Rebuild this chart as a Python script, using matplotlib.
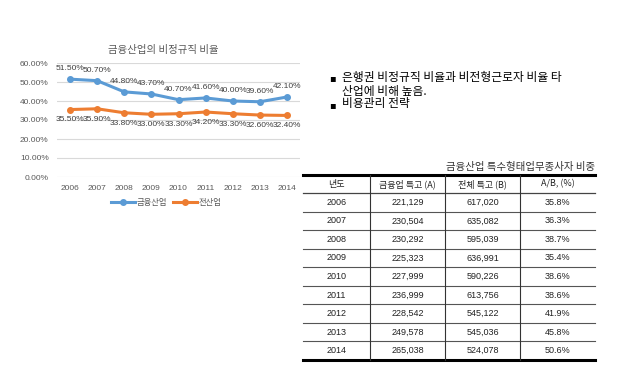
import matplotlib.pyplot as plt
import numpy as np

plt.rcParams['font.family'] = ['Noto Sans CJK KR', 'DejaVu Sans']

# 데이터
years = ['2006', '2007', '2008', '2009', '2010', '2011', '2012', '2013', '2014']
finance = [51.5, 50.7, 44.8, 43.7, 40.7, 41.6, 40.0, 39.6, 42.1]
all_ind = [35.5, 35.9, 33.8, 33.0, 33.3, 34.2, 33.3, 32.6, 32.4]

tbl_header = ['년도', '금융업 특고 (A)', '전체 특고 (B)', 'A/B, (%)']
tbl_fin = ['221,129', '230,504', '230,292', '225,323', '227,999',
           '236,999', '228,542', '249,578', '265,038']
tbl_total = ['617,020', '635,082', '595,039', '636,991', '590,226',
             '613,756', '545,122', '545,036', '524,078']
tbl_ratio = ['35.8%', '36.3%', '38.7%', '35.4%', '38.6%',
             '38.6%', '41.9%', '45.8%', '50.6%']

W, H = 635, 382
fig = plt.figure(figsize=(W / 100, H / 100), dpi=100)
num_font = ['Liberation Sans', 'DejaVu Sans']

# 선 그래프
ax = fig.add_axes([57 / W, 1 - 177 / H, 243 / W, 114 / H])
x = np.arange(len(years))
blue = '#5B9BD5'
orange = '#ED7D31'
ax.plot(x, finance, color=blue, lw=2.2, marker='o', ms=4, label='금융산업')
ax.plot(x, all_ind, color=orange, lw=2.2, marker='o', ms=4, label='전산업')
for i in range(len(x)):
    ax.annotate(f'{finance[i]:.2f}%', (x[i], finance[i]), xytext=(0, 5),
                textcoords='offset points', ha='center', va='bottom',
                fontsize=6, color='#404040', family=num_font)
    ax.annotate(f'{all_ind[i]:.2f}%', (x[i], all_ind[i]), xytext=(0, -5),
                textcoords='offset points', ha='center', va='top',
                fontsize=6, color='#404040', family=num_font)
ax.set_xlim(-0.48, 8.48)
ax.set_ylim(0, 60)
ax.set_yticks(np.arange(0, 61, 10))
ax.set_yticklabels([f'{v:.2f}%' for v in np.arange(0, 61, 10)])
ax.set_xticks(x)
ax.set_xticklabels(years)
ax.tick_params(length=0, labelsize=6, colors='#595959', pad=6)
for lab in ax.get_xticklabels() + ax.get_yticklabels():
    lab.set_family(num_font)
ax.grid(axis='y', color='#D9D9D9', lw=0.8)
ax.set_axisbelow(True)
for s in ax.spines.values():
    s.set_visible(False)
fig.text(163 / W, 1 - 50 / H, '금융산업의 비정규직 비율', fontsize=7.5, color='#595959',
         ha='center', va='center')
ax.legend(loc='upper center', bbox_to_anchor=(0.45, -0.12), ncol=2, frameon=False,
          fontsize=6, handlelength=2.8, columnspacing=0.8, handletextpad=0.2,
          labelcolor='#595959')

# 오른쪽 텍스트와 표
ov = fig.add_axes([0, 0, 1, 1])
ov.set_xlim(0, W)
ov.set_ylim(H, 0)
ov.axis('off')

ov.text(329, 78, '▪', fontsize=7, va='center', ha='left', family='DejaVu Sans')
ov.text(342, 77, '은행권 비정규직 비율과 비전형근로자 비율 타', fontsize=8.5, va='center')
ov.text(342, 91, '산업에 비해 높음.', fontsize=8.5, va='center')
ov.text(329, 105, '▪', fontsize=7, va='center', ha='left', family='DejaVu Sans')
ov.text(342, 104, '비용관리 전략', fontsize=8.5, va='center')

ov.text(595, 167, '금융산업 특수형태업무종사자 비중', fontsize=7.5, ha='right', va='center',
        color='#333333')

left, right = 303, 595
top, head_bot = 175, 193
row_h = (360 - head_bot) / len(tbl_fin)
cols = [303, 370, 445, 520, 595]
centers = [(cols[k] + cols[k + 1]) / 2 for k in range(4)]

ov.plot([left, right], [top, top], color='black', lw=2.2)
ov.plot([left, right], [360, 360], color='black', lw=2.2)
ov.plot([left, right], [head_bot, head_bot], color='#444444', lw=0.9)
for r in range(1, len(tbl_fin)):
    yy = head_bot + r * row_h
    ov.plot([left, right], [yy, yy], color='#555555', lw=0.8)
for cx in cols[1:4]:
    ov.plot([cx, cx], [top, 360], color='#333333', lw=0.8)

for k in range(4):
    ov.text(centers[k], (top + head_bot) / 2, tbl_header[k], fontsize=6.5,
            ha='center', va='center', color='#222222')
for r in range(len(tbl_fin)):
    yy = head_bot + (r + 0.5) * row_h
    vals = [years[r], tbl_fin[r], tbl_total[r], tbl_ratio[r]]
    for k in range(4):
        ov.text(centers[k], yy, vals[k], fontsize=6.5, ha='center', va='center',
                color='#222222', family=num_font)

plt.savefig('out.png', dpi=100)
